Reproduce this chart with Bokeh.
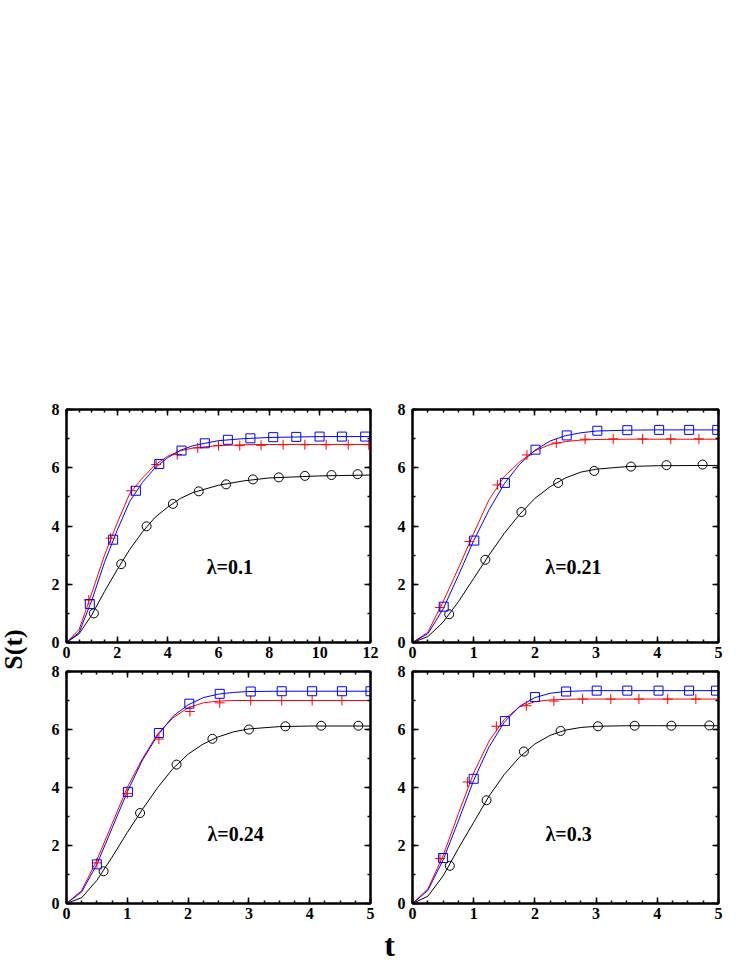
import math
from bokeh.plotting import figure
from bokeh.layouts import row, column
from bokeh.models import Range1d, SingleIntervalTicker, FixedTicker, LinearAxis, Label, Spacer
from bokeh.embed import file_html
from bokeh.resources import INLINE

FONT = "Liberation Serif"

# ---------------- data ----------------
# panel 1 (lambda = 0.1)
p1_circ_t = [1.08, 2.16, 3.16, 4.2, 5.22, 6.3, 7.36, 8.38, 9.41, 10.46, 11.49]
p1_circ_s = [1.0, 2.69, 3.99, 4.76, 5.19, 5.43, 5.6, 5.67, 5.72, 5.75, 5.78]
p1_plus_t = [0.88, 1.74, 2.55, 3.54, 4.37, 5.18, 6.0, 6.84, 7.68, 8.55, 9.41, 10.25, 11.12, 11.93]
p1_plus_s = [1.46, 3.58, 5.21, 6.11, 6.45, 6.68, 6.76, 6.76, 6.77, 6.79, 6.79, 6.79, 6.79, 6.79]
p1_sq_t = [0.92, 1.84, 2.74, 3.66, 4.54, 5.46, 6.37, 7.26, 8.16, 9.07, 9.99, 10.87, 11.79]
p1_sq_s = [1.32, 3.53, 5.21, 6.13, 6.59, 6.84, 6.96, 7.01, 7.05, 7.06, 7.07, 7.07, 7.07]
p1_line_t = [0, 0.5, 1, 1.5, 2, 2.5, 3, 3.5, 4, 4.5, 5, 6, 7, 8, 10, 12]
p1_line_black = [0, 0.3, 0.95, 1.75, 2.5, 3.2, 3.8, 4.3, 4.65, 4.95, 5.15, 5.4, 5.55, 5.65, 5.72, 5.75]
p1_line_red = [0, 0.45, 1.7, 3.0, 4.1, 5.12, 5.65, 6.1, 6.4, 6.58, 6.68, 6.76, 6.79, 6.8, 6.8, 6.8]
p1_line_blue = [0, 0.35, 1.45, 2.75, 3.85, 4.85, 5.5, 6.0, 6.35, 6.6, 6.76, 6.93, 7.0, 7.04, 7.07, 7.07]

# panel 2 (lambda = 0.21)
p2_circ_t = [0.6, 1.19, 1.78, 2.38, 2.97, 3.57, 4.15, 4.74]
p2_circ_s = [0.97, 2.84, 4.48, 5.48, 5.89, 6.04, 6.09, 6.11]
p2_plus_t = [0.45, 0.93, 1.39, 1.87, 2.35, 2.82, 3.28, 3.76, 4.22, 4.68]
p2_plus_s = [1.2, 3.47, 5.41, 6.44, 6.85, 6.98, 6.99, 6.99, 6.99, 6.99]
p2_sq_t = [0.51, 1.01, 1.51, 2.01, 2.52, 3.02, 3.51, 4.03, 4.52, 4.98]
p2_sq_s = [1.23, 3.5, 5.48, 6.62, 7.11, 7.27, 7.29, 7.3, 7.3, 7.3]
p2_line_t = [0, 0.25, 0.5, 0.75, 1, 1.25, 1.5, 1.75, 2, 2.25, 2.5, 2.75, 3, 3.5, 4, 5]
p2_line_black = [0, 0.2, 0.7, 1.4, 2.2, 3.0, 3.75, 4.4, 4.95, 5.35, 5.65, 5.85, 5.95, 6.04, 6.07, 6.08]
p2_line_red = [0, 0.35, 1.4, 2.55, 3.75, 4.9, 5.7, 6.2, 6.58, 6.8, 6.9, 6.95, 6.97, 6.98, 6.98, 6.98]
p2_line_blue = [0, 0.3, 1.15, 2.3, 3.5, 4.55, 5.45, 6.12, 6.6, 6.92, 7.1, 7.2, 7.26, 7.29, 7.3, 7.3]

# panel 3 (lambda = 0.24)
p3_circ_t = [0.61, 1.21, 1.81, 2.4, 3.0, 3.6, 4.19, 4.8]
p3_circ_s = [1.11, 3.12, 4.79, 5.68, 6.0, 6.11, 6.13, 6.13]
p3_plus_t = [0.5, 1.0, 1.52, 2.03, 2.52, 3.03, 3.54, 4.04, 4.53, 5.0]
p3_plus_s = [1.4, 3.79, 5.67, 6.62, 6.92, 7.0, 7.0, 7.0, 7.0, 7.0]
p3_sq_t = [0.5, 1.01, 1.52, 2.02, 2.52, 3.03, 3.54, 4.04, 4.53, 5.0]
p3_sq_s = [1.35, 3.85, 5.88, 6.89, 7.23, 7.31, 7.32, 7.32, 7.32, 7.32]
p3_line_t = [0, 0.25, 0.5, 0.75, 1, 1.25, 1.5, 1.75, 2, 2.25, 2.5, 2.75, 3, 3.5, 4, 5]
p3_line_black = [0, 0.2, 0.8, 1.6, 2.45, 3.25, 4.0, 4.65, 5.15, 5.5, 5.75, 5.92, 6.02, 6.1, 6.12, 6.12]
p3_line_red = [0, 0.45, 1.5, 2.75, 4.0, 5.0, 5.85, 6.4, 6.75, 6.92, 6.98, 7.0, 7.0, 7.0, 7.0, 7.0]
p3_line_blue = [0, 0.4, 1.35, 2.6, 3.85, 4.95, 5.8, 6.45, 6.85, 7.1, 7.22, 7.28, 7.31, 7.32, 7.32, 7.32]

# panel 4 (lambda = 0.3)
p4_circ_t = [0.61, 1.21, 1.82, 2.42, 3.03, 3.63, 4.23, 4.85]
p4_circ_s = [1.3, 3.56, 5.24, 5.95, 6.11, 6.13, 6.13, 6.14]
p4_plus_t = [0.45, 0.9, 1.37, 1.86, 2.31, 2.78, 3.24, 3.7, 4.17, 4.63]
p4_plus_s = [1.55, 4.19, 6.11, 6.82, 6.98, 7.05, 7.05, 7.05, 7.05, 7.05]
p4_sq_t = [0.5, 1.0, 1.51, 2.0, 2.51, 3.01, 3.51, 4.02, 4.52, 4.96]
p4_sq_s = [1.57, 4.3, 6.29, 7.12, 7.31, 7.34, 7.34, 7.34, 7.34, 7.34]
p4_line_t = [0, 0.25, 0.5, 0.75, 1, 1.25, 1.5, 1.75, 2, 2.25, 2.5, 2.75, 3, 3.5, 4, 5]
p4_line_black = [0, 0.25, 0.95, 1.9, 2.8, 3.7, 4.45, 5.05, 5.5, 5.8, 5.98, 6.07, 6.11, 6.13, 6.13, 6.13]
p4_line_red = [0, 0.5, 1.65, 3.1, 4.5, 5.6, 6.35, 6.78, 6.96, 7.02, 7.04, 7.05, 7.05, 7.05, 7.05, 7.05]
p4_line_blue = [0, 0.45, 1.5, 2.85, 4.25, 5.4, 6.25, 6.8, 7.1, 7.25, 7.31, 7.33, 7.34, 7.34, 7.34, 7.34]

panel_labels = ["\u03bb=0.1", "\u03bb=0.21", "\u03bb=0.24", "\u03bb=0.3"]
panel_label_pos = [(6.45, 2.6), (2.63, 2.6), (2.78, 2.38), (2.55, 2.38)]
x_max = [12, 5, 5, 5]
x_major = [2, 1, 1, 1]
y_max = 8
y_major = 2
x_title = "t"
y_title = "S(t)"


def style_axis(ax, labels=True):
    ax.axis_line_width = 2
    ax.axis_line_color = "black"
    ax.major_tick_in = 6
    ax.major_tick_out = 0
    ax.minor_tick_in = 3
    ax.minor_tick_out = 0
    ax.major_tick_line_width = 1.5
    ax.minor_tick_line_width = 1.5
    ax.major_tick_line_color = "black"
    ax.minor_tick_line_color = "black"
    if labels:
        ax.major_label_text_font = FONT
        ax.major_label_text_font_style = "bold"
        ax.major_label_text_font_size = "16px"
        ax.major_label_text_color = "black"
        ax.major_label_standoff = 4
    else:
        ax.major_label_text_font_size = "1px"
        ax.major_label_text_color = None
        ax.major_label_text_alpha = 0
        ax.major_label_standoff = 0


def make_panel(i, ct, cs, pt, ps, st, ss, lt, lb, lr, lbl, fw, fh, bl, br, bt, bb):
    p = figure(width=bl + fw + br, height=bt + fh + bb, title=None,
               x_range=Range1d(0, x_max[i]), y_range=Range1d(0, y_max),
               min_border_left=bl, min_border_right=br,
               min_border_top=bt, min_border_bottom=bb,
               toolbar_location=None, output_backend="svg")
    p.grid.visible = False
    p.outline_line_color = "black"
    p.outline_line_width = 2
    p.background_fill_color = "white"
    p.border_fill_color = "white"
    p.xaxis.ticker = SingleIntervalTicker(interval=x_major[i], num_minor_ticks=4)
    p.yaxis.ticker = SingleIntervalTicker(interval=y_major, num_minor_ticks=2)
    style_axis(p.xaxis[0])
    style_axis(p.yaxis[0])
    p.yaxis[0].major_label_standoff = 7
    top = LinearAxis(ticker=SingleIntervalTicker(interval=x_major[i], num_minor_ticks=4))
    right = LinearAxis(ticker=SingleIntervalTicker(interval=y_major, num_minor_ticks=2))
    style_axis(top, labels=False)
    style_axis(right, labels=False)
    p.add_layout(top, "above")
    p.add_layout(right, "right")

    p.line(lt, lb, line_color="black", line_width=1)
    p.line(lt, lr, line_color="red", line_width=1)
    p.line(lt, lbl, line_color="blue", line_width=1)
    p.scatter(ct, cs, marker="circle", size=9, line_color="black", fill_color=None, line_width=1)
    p.scatter(pt, ps, marker="cross", size=10, line_color="red", line_width=1)
    p.scatter(st, ss, marker="square", size=9, line_color="blue", fill_color=None, line_width=1)

    lx, ly = panel_label_pos[i]
    p.add_layout(Label(x=lx, y=ly, text=panel_labels[i], text_font=FONT,
                       text_font_style="bold", text_font_size="20px",
                       text_align="center", text_baseline="middle", text_color="black"))
    return p


FW_L, FW_R = 304, 306
FH_T, FH_B = 233, 232
BB_BOTTOM = 22

p1 = make_panel(0, p1_circ_t, p1_circ_s, p1_plus_t, p1_plus_s, p1_sq_t, p1_sq_s,
                p1_line_t, p1_line_black, p1_line_red, p1_line_blue, FW_L, FH_T, 28, 14, 10, 21)
p2 = make_panel(1, p2_circ_t, p2_circ_s, p2_plus_t, p2_plus_s, p2_sq_t, p2_sq_s,
                p2_line_t, p2_line_black, p2_line_red, p2_line_blue, FW_R, FH_T, 28, 14, 10, 21)
p3 = make_panel(2, p3_circ_t, p3_circ_s, p3_plus_t, p3_plus_s, p3_sq_t, p3_sq_s,
                p3_line_t, p3_line_black, p3_line_red, p3_line_blue, FW_L, FH_B, 28, 14, 8, BB_BOTTOM)
p4 = make_panel(3, p4_circ_t, p4_circ_s, p4_plus_t, p4_plus_s, p4_sq_t, p4_sq_s,
                p4_line_t, p4_line_black, p4_line_red, p4_line_blue, FW_R, FH_B, 28, 14, 8, BB_BOTTOM)

TOP_SPACE = 399
LEFT_W = 38
T_W = 694
T_H = 40
TOTAL_H = TOP_SPACE + (10 + FH_T + 21) + (8 + FH_B + BB_BOTTOM) + T_H

# strip holding the common x title as an axis label (frame centred at x = 389)
tfig = figure(width=T_W, height=T_H, title=None,
              x_range=Range1d(0, 1), y_range=Range1d(0, 1),
              y_axis_location=None, min_border_left=28, min_border_right=20,
              min_border_top=0, min_border_bottom=0,
              toolbar_location=None, output_backend="svg")
tfig.grid.visible = False
tfig.outline_line_color = None
tax = tfig.xaxis[0]
tax.ticker = FixedTicker(ticks=[])
tax.axis_line_color = None
tax.major_tick_line_color = None
tax.minor_tick_line_color = None
tax.major_tick_in = 0
tax.major_tick_out = 0
tax.minor_tick_in = 0
tax.minor_tick_out = 0
tax.major_label_text_font_size = "1px"
tax.major_label_text_color = None
tax.major_label_standoff = 0
tax.axis_label = x_title
tax.axis_label_text_font = FONT
tax.axis_label_text_font_style = "bold"
tax.axis_label_text_font_size = "32px"
tax.axis_label_text_color = "black"
tax.axis_label_standoff = 0

left = figure(width=LEFT_W, height=TOTAL_H, title=None,
              x_range=Range1d(0, LEFT_W), y_range=Range1d(0, TOTAL_H),
              x_axis_location=None, y_axis_location=None, min_border=0,
              toolbar_location=None, output_backend="svg")
left.grid.visible = False
left.outline_line_color = None
left.add_layout(Label(x=13, y=TOTAL_H - 649, text=y_title, angle=math.pi / 2, text_font=FONT,
                      text_font_style="bold", text_font_size="26px",
                      text_align="center", text_baseline="middle", text_color="black"))

layout = row(left, column(Spacer(width=T_W, height=TOP_SPACE), row(p1, p2), row(p3, p4), tfig))

open("out.html", "w").write(file_html(layout, INLINE))
